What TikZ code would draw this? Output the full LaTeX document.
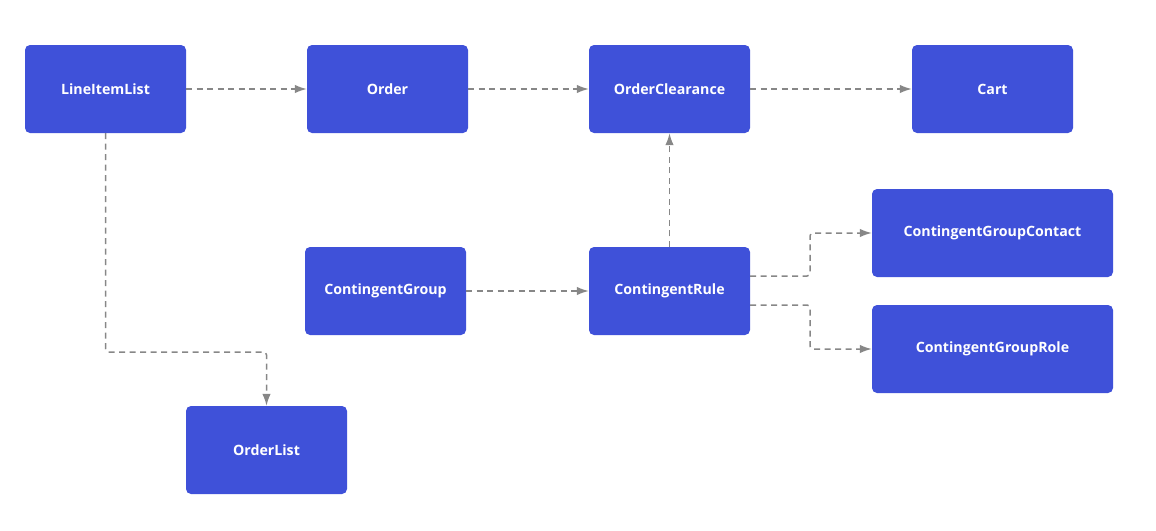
\documentclass[tikz,border=0pt]{standalone}
\usepackage{fontspec}
\setmainfont{Open Sans}
\usetikzlibrary{arrows.meta}
\definecolor{boxblue}{HTML}{3F51D9}
\definecolor{linkgray}{HTML}{878787}
\tikzset{
  entity/.style={fill=boxblue, rounded corners=5pt, minimum width=161pt, minimum height=88pt,
    text=white, font=\fontsize{14.2pt}{16pt}\selectfont\bfseries, inner sep=0pt},
  wide/.style={entity, minimum width=241pt},
  link/.style={draw=linkgray, line width=1.5pt, dash pattern=on 6pt off 4.5pt,
    -{Latex[length=12pt,width=8.5pt]}, rounded corners=3pt},
}
\begin{document}
\begin{tikzpicture}[x=1pt,y=-1pt]
\useasboundingbox (0,0) rectangle (1156,530);
% top row
\node[entity] (lineitems) at (105.5,89) {LineItemList};
\node[entity] (order) at (387.5,89) {Order};
\node[entity] (clearance) at (669.5,89) {OrderClearance};
\node[entity] (cart) at (992.5,89) {Cart};
% middle row
\node[entity] (cgroup) at (385.5,291) {ContingentGroup};
\node[entity] (crule) at (669.5,291) {ContingentRule};
\node[wide] (ccontact) at (992.5,233) {ContingentGroupContact};
\node[wide] (crole) at (992.5,349) {ContingentGroupRole};
% bottom
\node[entity] (orders) at (266.5,450) {OrderList};

\draw[link] (lineitems) -- (order);
\draw[link] (order) -- (clearance);
\draw[link] (clearance) -- (cart);
\draw[link] (lineitems.south) |- (186,352) -| (orders.north);
\draw[link] (cgroup) -- (crule);
\draw[link] (crule) -- (clearance);
\draw[link] (crule.east |- 0,276) -- (810,276) |- (ccontact.west);
\draw[link] (crule.east |- 0,305) -- (810,305) |- (crole.west);
\end{tikzpicture}
\end{document}
